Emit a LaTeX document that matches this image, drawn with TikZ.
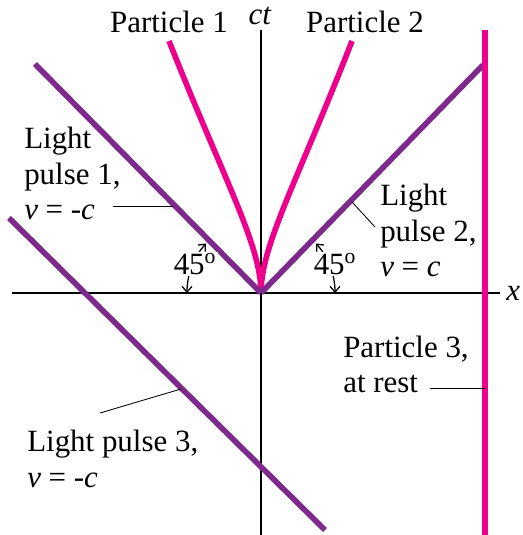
\documentclass[tikz,border=0pt]{standalone}
\usepackage{fontspec}
\setmainfont{Liberation Serif}
\usetikzlibrary{arrows.meta,positioning,calc}
\definecolor{partpink}{RGB}{236,0,140}
\definecolor{pulsepurple}{RGB}{125,42,140}

\begin{document}
\begin{tikzpicture}[
  font=\fontsize{22}{25.6}\selectfont,
  axis/.style={line width=1.3pt},
  pulse/.style={line width=4pt,pulsepurple},
  particle/.style={line width=4pt,partpink},
  leader/.style={line width=0.6pt},
  anglearc/.style={line width=0.9pt,{Straight Barb[length=4pt,width=7pt]}-{Straight Barb[length=4pt,width=7pt]}},
  lbl/.style={inner sep=0pt,align=left,anchor=base west}
]
\useasboundingbox (-6.525,-6.05) rectangle (6.525,7.325);

% axes
\coordinate (o) at (0,0);
\draw[axis] (-6.225,0) -- (5.975,0) coordinate (xend);
\draw[axis] (0,-6.05) -- (0,6.575) coordinate (tend);
\node[right=1.5mm of xend,inner sep=0pt] (xlab) {\textit{x}};
\node[anchor=base,inner sep=0pt] (ctlab) at (-0.025,6.7) {\textit{ct}};

% world lines
\draw[particle] (o) .. controls (0,1.2) and (-0.9,2.77) .. (-2.3,6.3);
\draw[particle] (o) .. controls (0,1.2) and (0.9,2.77) .. (2.275,6.3);
\draw[pulse] (o) -- (-5.65,5.725);
\draw[pulse] (o) -- (5.55,5.7);
\draw[pulse] (-6.3,1.875) -- (1.6,-5.925);
\draw[particle] (5.6,-6.05) -- (5.6,6.575);

% 45 degree marks
\draw[anglearc] (180:1.85) arc[start angle=180,end angle=138,radius=1.85];
\draw[anglearc] (0:1.85) arc[start angle=0,end angle=42,radius=1.85];
\node[fill=white,inner sep=1pt] (ang1) at (-1.65,0.725) {45\textsuperscript{o}};
\node[fill=white,inner sep=1pt] (ang2) at (1.85,0.725) {45\textsuperscript{o}};

% labels (base = last line)
\node[anchor=base,inner sep=0pt] (lpart1) at (-2.3,6.5) {Particle 1};
\node[anchor=base,inner sep=0pt] (lpart2) at (2.6,6.5) {Particle 2};
\node[lbl] (lpulse1) at (-5.925,1.825) {Light\\pulse 1,\\\textit{v} = -\textit{c}};
\node[lbl] (lpulse2) at (2.975,0.4) {Light\\pulse 2,\\\textit{v} = \textit{c}};
\node[lbl] (lpulse3) at (-5.85,-4.85) {Light pulse 3,\\\textit{v} = -\textit{c}};
\node[lbl] (lpart3) at (2.05,-2.5) {Particle 3,\\at rest};

% leaders
\coordinate (l1a) at (-3.7,2.175);
\coordinate (l1b) at (-2.2,2.175);
\coordinate (l2a) at (2.275,2.275);
\coordinate (l2b) at (2.85,1.65);
\coordinate (l3a) at (-4.025,-3.0);
\coordinate (l3b) at (-2.0,-2.4);
\coordinate (l4a) at (4.225,-2.375);
\coordinate (l4b) at (5.6,-2.375);
\draw[leader] (l1a) -- (l1b);
\draw[leader] (l2a) -- (l2b);
\draw[leader] (l3a) -- (l3b);
\draw[leader] (l4a) -- (l4b);
\end{tikzpicture}
\end{document}
